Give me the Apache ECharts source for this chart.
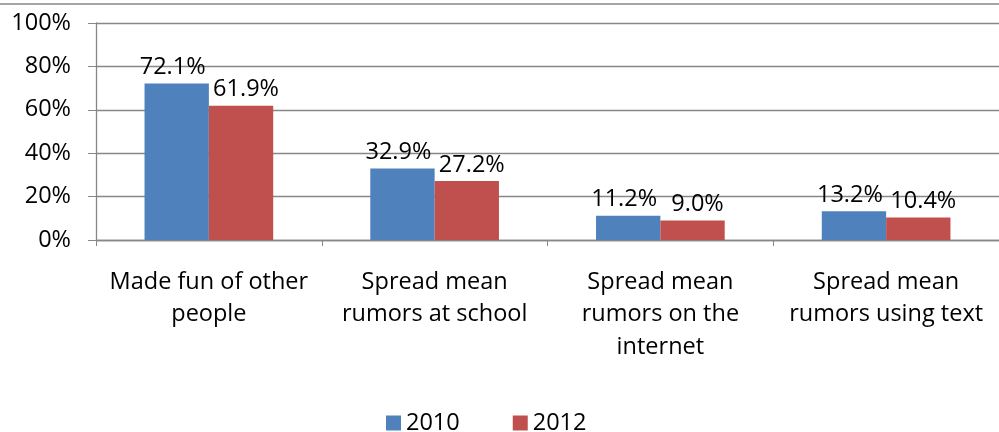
<!DOCTYPE html>
<html><head><meta charset="utf-8">
<script src="https://cdn.jsdelivr.net/npm/echarts@6/dist/echarts.min.js"></script>
<style>html,body{margin:0;padding:0;background:#fff}#c{width:999px;height:432px}</style>
</head><body><div id="c"></div>
<script>
const categories = ["Made fun of other\npeople", "Spread mean\nrumors at school", "Spread mean\nrumors on the\ninternet", "Spread mean\nrumors using text"];
const seriesNames = ["2010", "2012"];
const values2010 = [72.1, 32.9, 11.2, 13.2];
const values2012 = [61.9, 27.2, 9.0, 10.4];
const yTicks = [0, 20, 40, 60, 80, 100];

const FONT = 'Open Sans';
const FS = 23.5;
const chart = echarts.init(document.getElementById('c'));
const grey = '#878787';
function makeSeries(name, data, color, dx) {
  return {
    name, type: 'bar', data, barGap: '0%', barCategoryGap: '43%',
    itemStyle: { color },
    label: { show: true, position: 'top', distance: 4, offset: [dx, 0], color: '#000', fontFamily: FONT, fontSize: FS,
      formatter: p => p.value.toFixed(1) + '%' }
  };
}
chart.setOption({
  animation: false,
  textStyle: { fontFamily: FONT },
  grid: { left: 96, right: -1, top: 23, bottom: 192, containLabel: false },
  legend: {
    top: 406, left: 381, itemWidth: 15, itemHeight: 15, itemGap: 53, itemTextGap: 9,
    icon: 'rect', textStyle: { fontFamily: FONT, fontSize: FS, color: '#000' },
    data: seriesNames
  },
  xAxis: {
    type: 'category', data: categories,
    axisLine: { lineStyle: { color: grey, width: 1.3 } },
    axisTick: { show: true, length: 6, alignWithLabel: false, lineStyle: { color: grey } },
    axisLabel: { interval: 0, margin: 26, color: '#000', fontFamily: FONT, fontSize: FS, lineHeight: 32.5 }
  },
  yAxis: {
    type: 'value', min: 0, max: 100, interval: 20,
    axisLine: { show: true, lineStyle: { color: grey, width: 1.3 } },
    axisTick: { show: true, length: 8, inside: false, lineStyle: { color: grey } },
    splitLine: { lineStyle: { color: grey, width: 1.3 } },
    axisLabel: { margin: 25, color: '#000', fontFamily: FONT, fontSize: FS,
      formatter: v => yTicks.includes(v) ? v + '%' : '' }
  },
  series: [makeSeries(seriesNames[0], values2010, '#4F81BD', -4), makeSeries(seriesNames[1], values2012, '#C0504D', 5)],
  graphic: [{ type: 'line', shape: { x1: 0, y1: 4, x2: 999, y2: 4 }, style: { stroke: grey, lineWidth: 1.3 } }]
});
</script></body></html>
